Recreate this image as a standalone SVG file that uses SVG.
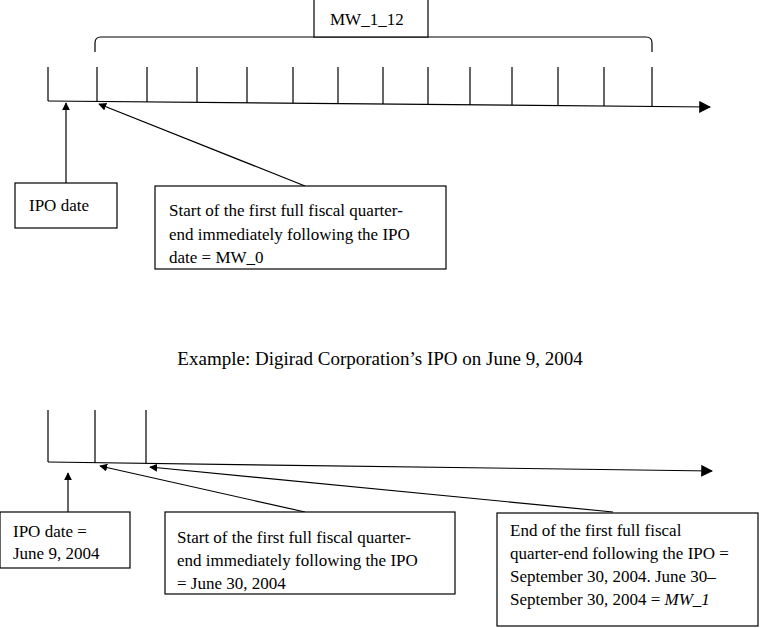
<svg xmlns="http://www.w3.org/2000/svg" width="761" height="628" viewBox="0 0 761 628">
<style>
.l{stroke:#000;stroke-width:1.2;fill:none}
.b{fill:#fff;stroke:#000;stroke-width:1.2}
text{font-family:"Liberation Serif","Times New Roman",serif;font-size:17px;fill:#000}
</style>
<defs><marker id="a" viewBox="0 0 10 10" refX="9" refY="5" markerWidth="8" markerHeight="8" orient="auto" markerUnits="userSpaceOnUse"><path d="M0,0L10,5L0,10z"/></marker>
<marker id="t" viewBox="0 0 10 10" refX="9" refY="5" markerWidth="12" markerHeight="12" orient="auto" markerUnits="userSpaceOnUse"><path d="M0,0L10,5L0,10z"/></marker></defs>
<rect width="761" height="628" fill="#fff"/>
<g id="connectors">
<line class="l" x1="48" y1="101" x2="710" y2="107" marker-end="url(#t)"/>
<path class="l" d="M48,67V101M97,67V101M147,67V102M197,67V102M247,67V103M293,67V103M338,67V104M383,67V104M428,67V104M470,67V105M512,67V105M558,67V106M604,67V106M652,67V106"/>
<path class="l" d="M95,52V43Q95,37 101,37H646Q652,37 652,43V52"/>
<line class="l" x1="66" y1="183" x2="66" y2="103" marker-end="url(#a)"/>
<line class="l" x1="305" y1="186" x2="99" y2="104" marker-end="url(#a)"/>
<line class="l" x1="48" y1="462" x2="712" y2="471" marker-end="url(#t)"/>
<path class="l" d="M48,410V462M95,410V463M146,410V463"/>
<line class="l" x1="68" y1="512" x2="68" y2="473" marker-end="url(#a)"/>
<line class="l" x1="305" y1="512" x2="100" y2="466" marker-end="url(#a)"/>
<line class="l" x1="613" y1="512" x2="150" y2="467" marker-end="url(#a)"/>
</g>
<g id="mw112"><rect class="b" x="314" y="-2" width="114" height="39"/><text x="330" y="25">MW_1_12</text></g>
<g id="ipo1"><rect class="b" x="15" y="183" width="102" height="45"/><text x="29" y="211">IPO date</text></g>
<g id="start1"><rect class="b" x="155" y="186" width="291" height="83"/>
<text x="169" y="216">Start of the first full fiscal quarter-</text>
<text x="169" y="240">end immediately following the IPO</text>
<text x="169" y="263">date = MW_0</text></g>
<text x="380" y="365" text-anchor="middle" style="font-size:19px">Example: Digirad Corporation’s IPO on June 9, 2004</text>
<g id="ipo2"><rect class="b" x="0" y="512" width="130" height="56"/><text x="13" y="537">IPO date =</text><text x="13" y="559">June 9, 2004</text></g>
<g id="start2"><rect class="b" x="165" y="512" width="290" height="82"/>
<text x="177" y="543">Start of the first full fiscal quarter-</text>
<text x="177" y="566">end immediately following the IPO</text>
<text x="177" y="589">= June 30, 2004</text></g>
<g id="end2"><rect class="b" x="497" y="513" width="261" height="113"/>
<text x="510" y="536">End of the first full fiscal</text>
<text x="510" y="559">quarter-end following the IPO =</text>
<text x="510" y="582">September 30, 2004. June 30–</text>
<text x="510" y="605">September 30, 2004 = <tspan font-style="italic">MW_1</tspan></text></g>
</svg>
